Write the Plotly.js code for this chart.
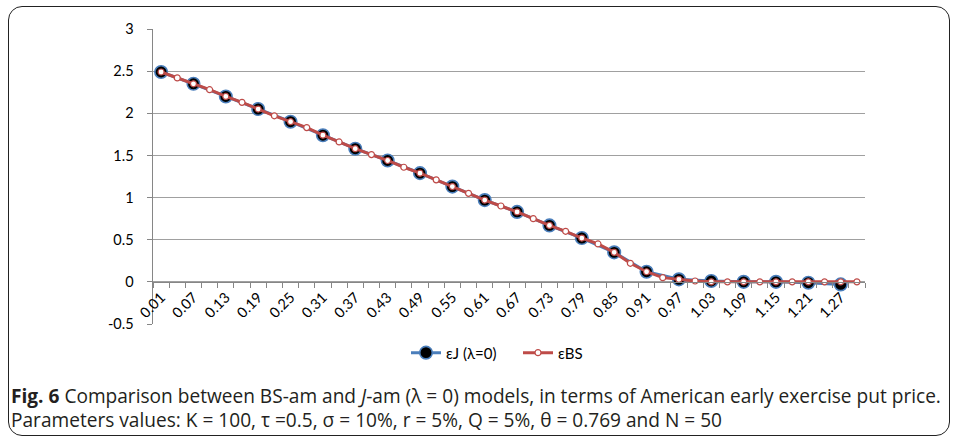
<!DOCTYPE html>
<html>
<head>
<meta charset="utf-8">
<script src="https://cdn.plot.ly/plotly-3.0.1.min.js"></script>
<style>
  html, body { margin: 0; padding: 0; background: #fff; }
  #wrap { position: relative; width: 956px; height: 439px; }
  #chart { width: 956px; height: 439px; }
  #frame { position: absolute; left: 8px; top: 6px; width: 940px; height: 428px;
           border: 1.5px solid #222; border-radius: 14px; pointer-events: none; }
</style>
</head>
<body>
<div id="wrap">
  <div id="chart"></div>
  <div id="frame"></div>
</div>
<script>
// Category values (x)
const xBS = [0.01, 0.04, 0.07, 0.10, 0.13, 0.16, 0.19, 0.22, 0.25, 0.28,
             0.31, 0.34, 0.37, 0.40, 0.43, 0.46, 0.49, 0.52, 0.55, 0.58,
             0.61, 0.64, 0.67, 0.70, 0.73, 0.76, 0.79, 0.82, 0.85, 0.88,
             0.91, 0.94, 0.97, 1.00, 1.03, 1.06, 1.09, 1.12, 1.15, 1.18,
             1.21, 1.24, 1.27, 1.30];
const yBS = [2.49, 2.42, 2.35, 2.28, 2.20, 2.13, 2.05, 1.97, 1.90, 1.83,
             1.74, 1.66, 1.58, 1.51, 1.44, 1.36, 1.29, 1.21, 1.13, 1.05,
             0.97, 0.90, 0.83, 0.75, 0.67, 0.60, 0.52, 0.45, 0.35, 0.22,
             0.12, 0.05, 0.03, 0.01, 0.00, 0.00, 0.00, 0.00, 0.00, 0.00,
             0.00, 0.00, 0.00, 0.00];
const xJ = [0.01, 0.07, 0.13, 0.19, 0.25, 0.31, 0.37, 0.43, 0.49, 0.55,
            0.61, 0.67, 0.73, 0.79, 0.85, 0.91, 0.97, 1.03, 1.09, 1.15,
            1.21, 1.27];
const yJ = [2.49, 2.35, 2.20, 2.05, 1.90, 1.74, 1.58, 1.44, 1.29, 1.13,
            0.97, 0.83, 0.67, 0.52, 0.35, 0.12, 0.03, 0.01, 0.00, 0.00,
            -0.01, -0.03];
const yTickVals = [-0.5, 0, 0.5, 1, 1.5, 2, 2.5, 3];
const yTickText = ['-0.5', '0', '0.5', '1', '1.5', '2', '2.5', '3'];
const xTickVals = [0.01, 0.07, 0.13, 0.19, 0.25, 0.31, 0.37, 0.43, 0.49, 0.55,
                   0.61, 0.67, 0.73, 0.79, 0.85, 0.91, 0.97, 1.03, 1.09, 1.15,
                   1.21, 1.27];
const xTickText = ['0.01', '0.07', '0.13', '0.19', '0.25', '0.31', '0.37', '0.43', '0.49', '0.55',
                   '0.61', '0.67', '0.73', '0.79', '0.85', '0.91', '0.97', '1.03', '1.09', '1.15',
                   '1.21', '1.27'];

const traces = [
  {
    name: 'εJ (λ=0)', x: xJ, y: yJ, type: 'scatter', mode: 'lines+markers',
    line: { color: '#4a7ebb', width: 3 },
    marker: { symbol: 'circle', size: 12.5, color: '#000', line: { color: '#4a7ebb', width: 1.6 } }
  },
  {
    name: 'εBS', x: xBS, y: yBS, type: 'scatter', mode: 'lines+markers',
    line: { color: '#be4b48', width: 3 },
    marker: { symbol: 'circle', size: 6, color: '#fff', line: { color: '#be4b48', width: 1.2 } }
  }
];

const tickFont = { family: 'Lato, "Open Sans", sans-serif', size: 14.5, color: '#000' };
const capFont = { family: '"Open Sans", sans-serif', size: 19.1, color: '#231f20' };

const layout = {
  width: 956, height: 439,
  margin: { l: 153, r: 91, t: 29, b: 115, pad: 0 },
  paper_bgcolor: '#fff', plot_bgcolor: '#fff',
  showlegend: true,
  legend: {
    orientation: 'h', x: (406 - 153) / 712, xanchor: 'left', y: -0.098, yanchor: 'middle',
    font: { family: 'Lato, "Open Sans", sans-serif', size: 15, color: '#000' },
    itemclick: false, bgcolor: 'rgba(0,0,0,0)', entrywidth: 67, entrywidthmode: 'pixels'
  },
  xaxis: {
    type: 'linear', range: [-0.005, 1.315], fixedrange: true,
    anchor: 'free', position: 0.5 / 3.5,
    showgrid: false, zeroline: false,
    showline: true, linecolor: '#868686', linewidth: 1.5,
    tickmode: 'array', tickvals: xTickVals, ticktext: xTickText,
    ticks: '', tickangle: -45, tickfont: tickFont,
    minor: { tickmode: 'linear', tick0: -0.005, dtick: 0.03, ticks: 'outside',
             ticklen: 5, tickcolor: '#868686', tickwidth: 1, showgrid: false },
    automargin: false
  },
  yaxis: {
    range: [-0.5, 3], fixedrange: true,
    tickmode: 'array', tickvals: yTickVals, ticktext: yTickText,
    showgrid: true, gridcolor: '#a0a0a0', gridwidth: 1,
    zeroline: false,
    showline: true, linecolor: '#868686', linewidth: 1.5,
    ticks: 'outside', ticklen: 5, tickcolor: '#868686',
    tickfont: tickFont, ticklabelstandoff: 10,
    automargin: false
  },
  annotations: [
    {
      xref: 'paper', yref: 'paper', x: (9 - 153) / 712, y: (324 - 396) / 295,
      xanchor: 'left', yanchor: 'middle', showarrow: false, align: 'left',
      text: '<b>Fig. 6</b> Comparison between BS-am and <i>J</i>-am (λ = 0) models, in terms of American early exercise put price.',
      font: capFont
    },
    {
      xref: 'paper', yref: 'paper', x: (9 - 153) / 712, y: (324 - 420) / 295,
      xanchor: 'left', yanchor: 'middle', showarrow: false, align: 'left',
      text: 'Parameters values: K = 100, τ =0.5, σ = 10%, r = 5%, Q = 5%, θ = 0.769 and N = 50',
      font: capFont
    }
  ]
};

Plotly.newPlot('chart', traces, layout, { staticPlot: true, displayModeBar: false });
</script>
</body>
</html>
